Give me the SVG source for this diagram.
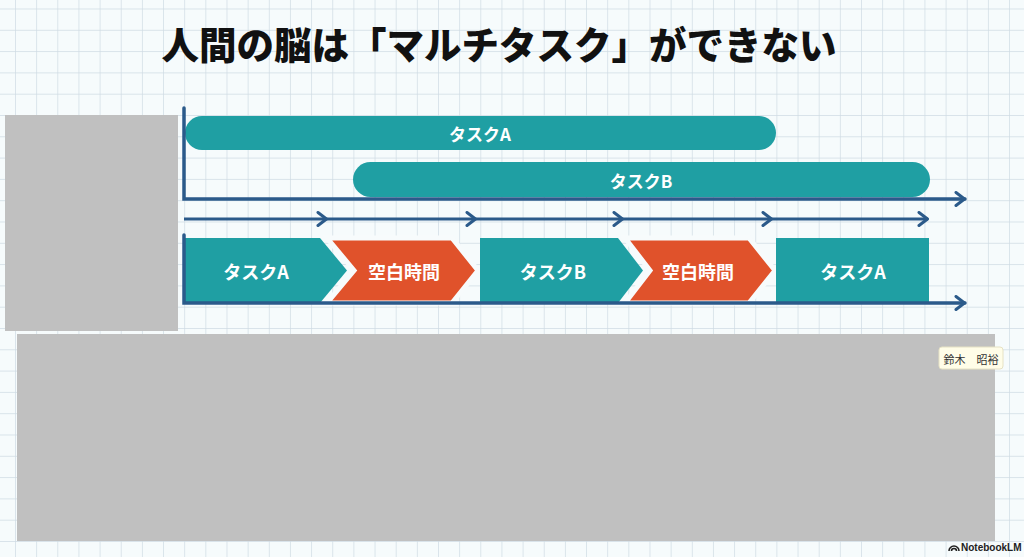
<svg xmlns="http://www.w3.org/2000/svg" width="1024" height="557" viewBox="0 0 1024 557">
  <defs>
    <pattern id="grid" x="15" y="8.5" width="21.15" height="21.3" patternUnits="userSpaceOnUse">
      <path d="M0,0 H21.15 M0,0 V21.3" fill="none" stroke="#cfdbe4" stroke-width="1.4"/>
    </pattern>
    <marker id="arr" viewBox="0 0 12 16" refX="11" refY="8" markerWidth="12" markerHeight="16" markerUnits="userSpaceOnUse" orient="auto">
      <path d="M2,1.5 L10.5,8 L2,14.5" fill="none" stroke="#2b5a8a" stroke-width="3" stroke-linecap="round" stroke-linejoin="round"/>
    </marker>
    <style>
      .axis { stroke: #2b5a8a; stroke-width: 3.5; fill: none; stroke-linecap: round; }
      .tl { stroke: #2b5a8a; stroke-width: 3; fill: none; }
      .teal { fill: #1f9fa3; }
      .orange { fill: #e0522b; stroke: #f7fbfc; stroke-width: 5; stroke-linejoin: miter; }
      .lbl { font-family: "Noto Sans CJK JP", "Noto Sans", sans-serif; font-weight: 700; fill: #ffffff; text-anchor: middle; dominant-baseline: central; }
      .mask { fill: #c0c0c0; }
    </style>
  </defs>

  <rect width="1024" height="557" fill="#f6fbfc"/>
  <rect width="1024" height="557" fill="url(#grid)"/>

  <text x="499" y="42" font-family="'Noto Sans CJK JP', 'Noto Sans', sans-serif" font-weight="900" font-size="37.5" fill="#111111" text-anchor="middle" dominant-baseline="central">人間の脳は「マルチタスク」ができない</text>

  <g id="bar-task-a">
    <rect class="teal" x="185" y="116" width="591" height="34" rx="17"/>
    <text class="lbl" x="480" y="133" font-size="17">タスクA</text>
  </g>
  <g id="bar-task-b">
    <rect class="teal" x="353" y="162" width="577" height="35" rx="17.5"/>
    <text class="lbl" x="641" y="180" font-size="17">タスクB</text>
  </g>

  <g id="seg-task-a-1">
    <path class="teal" d="M184,238 H320 L347,270.5 L320,303 H184 Z"/>
    <text class="lbl" x="256" y="271" font-size="18">タスクA</text>
  </g>
  <g id="seg-blank-1">
    <path class="orange" d="M327,238 H452 L478,270.5 L452,303 H327 L354,270.5 Z"/>
    <text class="lbl" x="404" y="271" font-size="18">空白時間</text>
  </g>
  <g id="seg-task-b">
    <path class="teal" d="M480,238 H618 L643,270.5 L618,303 H480 Z"/>
    <text class="lbl" x="553" y="271" font-size="18">タスクB</text>
  </g>
  <g id="seg-blank-2">
    <path class="orange" d="M625,238 H749 L775,270.5 L749,303 H625 L650,270.5 Z"/>
    <text class="lbl" x="698" y="271" font-size="18">空白時間</text>
  </g>
  <g id="seg-task-a-2">
    <rect class="teal" x="776" y="238" width="153" height="65"/>
    <text class="lbl" x="853" y="271" font-size="18">タスクA</text>
  </g>

  <g id="connectors">
    <path class="axis" d="M184,108 V199 H965" marker-end="url(#arr)"/>
    <path class="axis" d="M184,235 V303 H965" marker-end="url(#arr)"/>
    <path class="tl" d="M184,219 H327" marker-end="url(#arr)"/>
    <path class="tl" d="M327,219 H476" marker-end="url(#arr)"/>
    <path class="tl" d="M476,219 H623" marker-end="url(#arr)"/>
    <path class="tl" d="M623,219 H772" marker-end="url(#arr)"/>
    <path class="tl" d="M772,219 H928" marker-end="url(#arr)"/>
  </g>

  <rect class="mask" x="5" y="115" width="173" height="216"/>
  <rect class="mask" x="17" y="334" width="978" height="207"/>

  <g id="tooltip">
    <rect x="939" y="347" width="64" height="22" rx="3" fill="#fffde8" stroke="#e6e2c4" stroke-width="1"/>
    <text x="971" y="358.5" font-family="'Noto Sans CJK JP', sans-serif" font-size="11" fill="#333333" text-anchor="middle" dominant-baseline="central">鈴木　昭裕</text>
  </g>

  <g id="notebooklm">
    <path d="M949,551 a5,5 0 0 1 10,0 M951.5,551 a2.5,2.5 0 0 1 5,0" fill="none" stroke="#222222" stroke-width="1.6"/>
    <text x="961" y="547" font-family="'Liberation Sans', Arial, sans-serif" font-weight="700" font-size="10" fill="#222222" dominant-baseline="central">NotebookLM</text>
  </g>
</svg>
